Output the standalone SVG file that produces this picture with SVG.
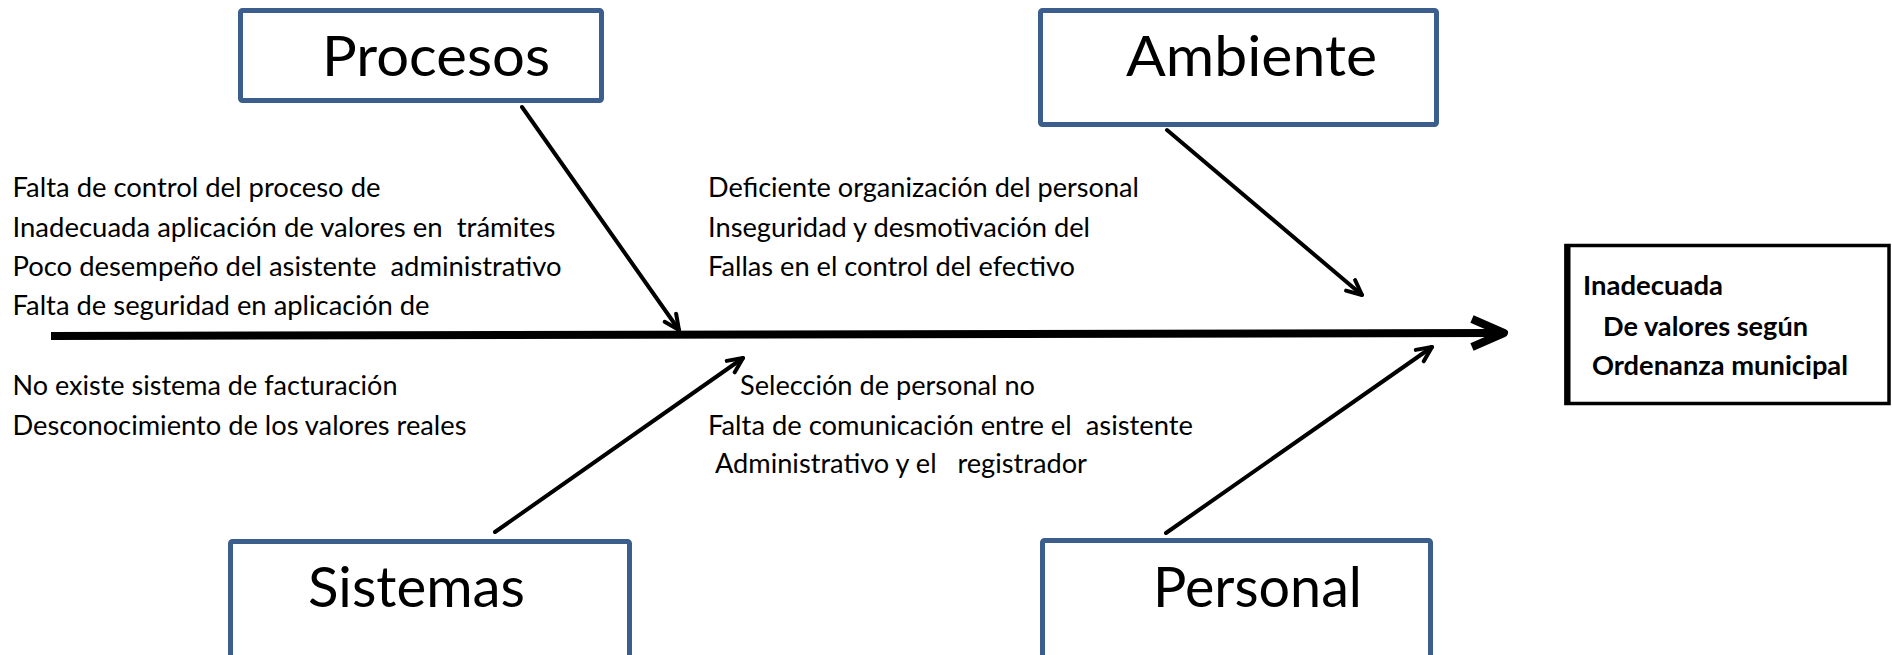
<svg xmlns="http://www.w3.org/2000/svg" width="1892" height="655" viewBox="0 0 1892 655">
<style>
.box{fill:#fff;stroke:#3B5E8C;stroke-width:5;}
.title{font-family:Lato,"Open Sans","Liberation Sans",sans-serif;font-size:57px;fill:#000;}
.cause{font-family:Lato,"Open Sans","Liberation Sans",sans-serif;font-size:26px;fill:#000;white-space:pre;}
.effect{font-family:Lato,"Open Sans","Liberation Sans",sans-serif;font-size:26px;font-weight:bold;fill:#000;white-space:pre;}
.branch{stroke:#000;stroke-width:4;fill:none;stroke-linecap:round;}
.spine{stroke:#000;stroke-width:8;fill:none;stroke-linecap:butt;stroke-linejoin:round;}
</style>
<defs>
<marker id="vhead" viewBox="0 0 20 20" refX="17" refY="10" markerWidth="20" markerHeight="20" markerUnits="userSpaceOnUse" orient="auto">
<path d="M2,3 L17,10 L2,17" fill="none" stroke="#000" stroke-width="4" stroke-linecap="round" stroke-linejoin="round"/>
</marker>
</defs>
<rect width="1892" height="655" fill="#fff"/>

<g id="procesos">
<rect class="box" x="240.5" y="10.5" width="361" height="90" rx="2"/>
<text class="title" x="322" y="76" textLength="228" lengthAdjust="spacingAndGlyphs">Procesos</text>
</g>
<g id="ambiente">
<rect class="box" x="1040.5" y="10.5" width="396" height="114" rx="2"/>
<text class="title" x="1126" y="76" textLength="251" lengthAdjust="spacingAndGlyphs">Ambiente</text>
</g>
<g id="sistemas">
<rect class="box" x="230.5" y="541.5" width="399" height="130" rx="2"/>
<text class="title" x="308" y="607" textLength="217" lengthAdjust="spacingAndGlyphs">Sistemas</text>
</g>
<g id="personal">
<rect class="box" x="1042.5" y="540.5" width="388" height="130" rx="2"/>
<text class="title" x="1153" y="607" textLength="209" lengthAdjust="spacingAndGlyphs">Personal</text>
</g>
<g id="efecto">
<rect x="1566" y="245.5" width="323" height="158" fill="#fff" stroke="#000" stroke-width="3.5"/>
<line x1="1567.5" y1="244" x2="1567.5" y2="405" stroke="#000" stroke-width="6"/>
<text class="effect" x="1583" y="295" textLength="140" lengthAdjust="spacingAndGlyphs">Inadecuada</text>
<text class="effect" x="1603" y="336" textLength="205" lengthAdjust="spacingAndGlyphs">De valores según</text>
<text class="effect" x="1592" y="375" textLength="256" lengthAdjust="spacingAndGlyphs">Ordenanza municipal</text>
</g>

<g id="causas-procesos">
<text class="cause" x="12.5" y="197" textLength="368" lengthAdjust="spacingAndGlyphs">Falta de control del proceso de</text>
<text class="cause" x="12.5" y="237" textLength="543" lengthAdjust="spacingAndGlyphs">Inadecuada aplicación de valores en  trámites</text>
<text class="cause" x="12.5" y="276" textLength="549" lengthAdjust="spacingAndGlyphs">Poco desempeño del asistente  administrativo</text>
<text class="cause" x="12.5" y="315" textLength="417" lengthAdjust="spacingAndGlyphs">Falta de seguridad en aplicación de</text>
</g>
<g id="causas-ambiente">
<text class="cause" x="708" y="197" textLength="431" lengthAdjust="spacingAndGlyphs">Deficiente organización del personal</text>
<text class="cause" x="708" y="237" textLength="382" lengthAdjust="spacingAndGlyphs">Inseguridad y desmotivación del</text>
<text class="cause" x="708" y="276" textLength="367" lengthAdjust="spacingAndGlyphs">Fallas en el control del efectivo</text>
</g>
<g id="causas-sistemas">
<text class="cause" x="12.5" y="395" textLength="385" lengthAdjust="spacingAndGlyphs">No existe sistema de facturación</text>
<text class="cause" x="12.5" y="435" textLength="454" lengthAdjust="spacingAndGlyphs">Desconocimiento de los valores reales</text>
</g>
<g id="causas-personal">
<text class="cause" x="740" y="395" textLength="295" lengthAdjust="spacingAndGlyphs">Selección de personal no</text>
<text class="cause" x="708" y="435" textLength="485" lengthAdjust="spacingAndGlyphs">Falta de comunicación entre el  asistente</text>
<text class="cause" x="715" y="473" textLength="372" lengthAdjust="spacingAndGlyphs">Administrativo y el   registrador</text>
</g>

<g id="connectors">
<line class="spine" x1="51" y1="336" x2="1494" y2="333"/>
<polyline class="spine" points="1472,319 1504,333 1472,347" stroke-linecap="round"/>
<line class="branch" x1="522" y1="107" x2="679" y2="330" marker-end="url(#vhead)"/>
<line class="branch" x1="1167" y1="130" x2="1362" y2="295" marker-end="url(#vhead)"/>
<line class="branch" x1="495" y1="532" x2="743" y2="358" marker-end="url(#vhead)"/>
<line class="branch" x1="1166" y1="533" x2="1432" y2="347" marker-end="url(#vhead)"/>
</g>
</svg>
